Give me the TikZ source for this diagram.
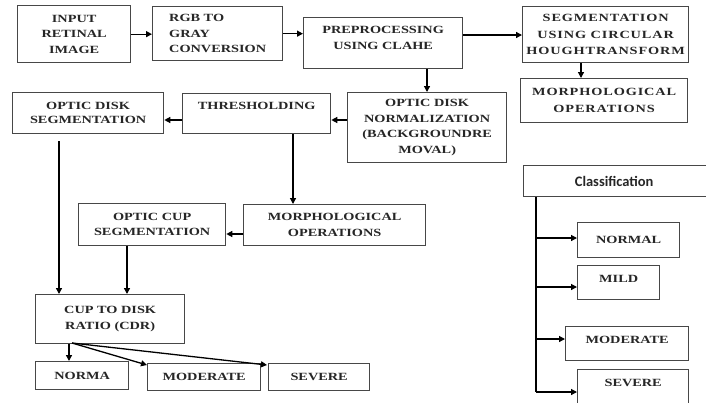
\documentclass[tikz,border=0pt]{standalone}
\usepackage{fontspec}
\usetikzlibrary{arrows.meta}
\newfontfamily\fa{Liberation Serif}[FakeStretch=1.3]
\newfontfamily\fb{Liberation Serif}[FakeStretch=1.3,LetterSpace=8]
\newfontfamily\fc{Carlito}
\newcommand\mkbox[7][]{\node[box,minimum width={(#5-#3)*1pt},minimum height={(#6-#4)*1pt},#1] (#2) at (#3,#4) {#7};}
\begin{document}
\begin{tikzpicture}[x=1pt,y=-1pt,
  box/.style={draw=black!72, line width=1.3pt, anchor=north west, inner sep=0pt, align=center,
    font=\fa\bfseries\fontsize{11}{15.5}\selectfont, text=black!85},
  rbox/.style={font=\fb\bfseries\fontsize{11}{16.5}\selectfont},
  arr/.style={line width=1.3pt, -{Triangle[length=6pt,width=6pt]}},
  ln/.style={line width=1.3pt}]
\useasboundingbox (0,0) rectangle (706,402);
\fill[white] (0,0) rectangle (706,402);
% boxes
\mkbox{inp}{17}{5}{130}{62}{INPUT\\RETINAL\\IMAGE}
\mkbox[align=left]{rgb}{152}{6}{282}{60}{RGB TO\\GRAY\\CONVERSION}
\mkbox{pre}{303}{17}{462}{68}{PREPROCESSING\\USING CLAHE\\[-4.5pt]~}
\mkbox[rbox]{seg}{522}{6}{688}{62}{SEGMENTATION\\USING CIRCULAR\\HOUGHTRANSFORM}
\mkbox[rbox]{mr}{520}{78}{687}{122}{MORPHOLOGICAL\\OPERATIONS}
\mkbox{odn}{347}{92}{506}{162}{OPTIC DISK\\NORMALIZATION\\(BACKGROUNDRE\\MOVAL)}
\mkbox{thr}{182}{93}{330}{133}{THRESHOLDING\\~}
\mkbox[font=\fa\bfseries\fontsize{11}{14}\selectfont]{ods}{12}{92}{163}{133}{OPTIC DISK\\SEGMENTATION}
\mkbox{ocs}{78}{203}{225}{245}{OPTIC CUP\\SEGMENTATION}
\mkbox{mm}{243}{204}{425}{245}{MORPHOLOGICAL\\OPERATIONS}
\mkbox{cdr}{35}{294}{184}{343}{CUP TO DISK\\RATIO (CDR)}
\mkbox{norma}{35}{361}{128}{389}{NORMA}
\mkbox{mod}{147}{363}{260}{390}{MODERATE}
\mkbox{sev}{268}{363}{369}{390}{SEVERE}
\mkbox[font=\fc\bfseries\fontsize{14.5}{16}\selectfont]{cls}{523}{165}{712}{196}{Classification\hspace*{8pt}}
\mkbox{normal}{577}{222}{679}{257}{NORMAL}
\mkbox{mild}{577}{265}{659}{299}{MILD\\[-7.5pt]~}
\mkbox{moder}{565}{326}{688}{360}{MODERATE\\[-7.5pt]~}
\mkbox{severe}{577}{369}{688}{410}{SEVERE\\~}
% connectors
\draw[arr] (inp.east) -- (inp.east -| rgb.west);
\draw[arr] (rgb.east) -- (rgb.east -| pre.west);
\draw[arr] (pre.east |- 0,35) -- (seg.west |- 0,35);
\draw[arr] (427,0 |- pre.south) -- (427,0 |- odn.north);
\draw[arr] (581,0 |- seg.south) -- (581,0 |- mr.north);
\draw[arr] (odn.west |- 0,120) -- (thr.east |- 0,120);
\draw[arr] (thr.west |- 0,120) -- (ods.east |- 0,120);
\draw[arr] (293,0 |- thr.south) -- (293,0 |- mm.north);
\draw[arr] (mm.west |- 0,234) -- (ocs.east |- 0,234);
\draw[arr, shorten <=7pt] (59,0 |- ods.south) -- (59,0 |- cdr.north);
\draw[arr] (127,0 |- ocs.south) -- (127,0 |- cdr.north);
\coordinate (cdrout) at (72,343);
\draw[arr] (69,0 |- cdr.south) -- (69,0 |- norma.north);
\draw[arr] (cdrout) -- ([yshift=-2pt]mod.north west);
\draw[arr] (cdrout) -- ([yshift=-2pt,xshift=-1pt]sev.north west);
\coordinate (clsend) at (536,392);
\draw[ln] (536,0 |- cls.south) -- (clsend);
\draw[arr] (536,238) -- (normal.west |- 0,238);
\draw[arr] (536,287) -- (mild.west |- 0,287);
\draw[arr] (536,339) -- (moder.west |- 0,339);
\draw[arr] (clsend) -- (severe.west |- clsend);
\end{tikzpicture}
\end{document}
